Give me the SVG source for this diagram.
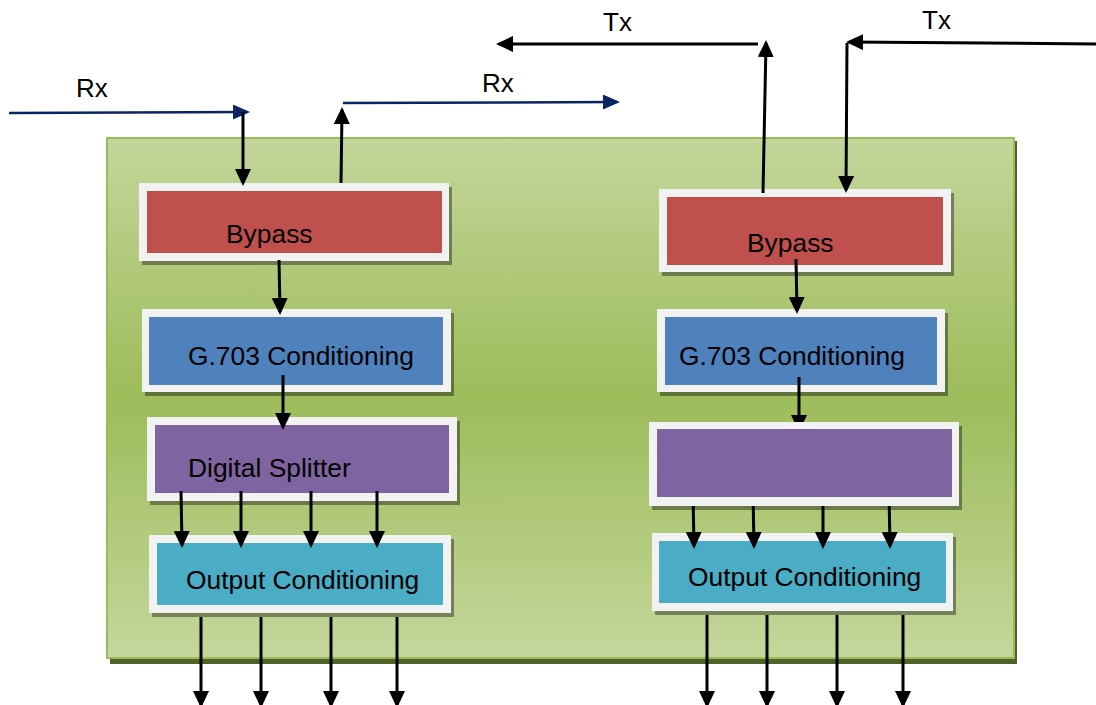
<svg xmlns="http://www.w3.org/2000/svg" width="1096" height="705" viewBox="0 0 1096 705">
<style>
.frame{fill:#F2F2F2}
.shadow{fill:#000;opacity:0.38}
.red{fill:#C0504D}
.blue{fill:#4F81BD}
.purple{fill:#8064A2}
.aqua{fill:#4BACC6}
.lbl{font-family:"Liberation Sans",Arial,sans-serif;font-size:26.4px;fill:#000}
.io{font-family:"Liberation Sans",Arial,sans-serif;font-size:26px;fill:#000}
.c{fill:none;stroke:#000;stroke-width:3}
.n{fill:none;stroke:#0B2463;stroke-width:2.5}
</style>
<defs>
<linearGradient id="bg" x1="0" y1="0" x2="0" y2="1">
<stop offset="0" stop-color="#C3D69B"/>
<stop offset="0.5" stop-color="#9DBC5A"/>
<stop offset="1" stop-color="#C4D79C"/>
</linearGradient>
<marker id="ah" markerUnits="userSpaceOnUse" markerWidth="17" markerHeight="16" refX="14" refY="8" orient="auto" viewBox="0 0 17 16">
<path d="M0,0 L17,8 L0,16 z" fill="#000"/>
</marker>
<marker id="nh" markerUnits="userSpaceOnUse" markerWidth="17" markerHeight="15" refX="14" refY="7.5" orient="auto" viewBox="0 0 17 15">
<path d="M0,0 L17,7.5 L0,15 z" fill="#0B2463"/>
</marker>
</defs>

<g id="container">
<rect x="110" y="141" width="907" height="523" fill="#4F6228"/>
<rect x="107" y="138" width="907" height="520" fill="url(#bg)" stroke="#9BBB59" stroke-width="2"/>
</g>

<g id="labels">
<text class="io" x="76" y="97">Rx</text>
<text class="io" x="482" y="92">Rx</text>
<text class="io" x="603" y="31">Tx</text>
<text class="io" x="922" y="29">Tx</text>
</g>

<g id="left-bypass">
<rect class="shadow" x="142" y="187" width="310" height="78"/>
<rect class="frame" x="139" y="183" width="310" height="78"/>
<rect class="red" x="147" y="191" width="295" height="62"/>
<text class="lbl" x="226" y="243">Bypass</text>
</g>
<g id="left-g703">
<rect class="shadow" x="145" y="313" width="309" height="83"/>
<rect class="frame" x="142" y="309" width="309" height="83"/>
<rect class="blue" x="149" y="317" width="294" height="68"/>
<text class="lbl" x="188" y="365">G.703 Conditioning</text>
</g>
<g id="left-splitter">
<rect class="shadow" x="150" y="421" width="310" height="84"/>
<rect class="frame" x="147" y="417" width="310" height="84"/>
<rect class="purple" x="155" y="425" width="294" height="68"/>
<text class="lbl" x="188" y="477">Digital Splitter</text>
</g>
<g id="left-output">
<rect class="shadow" x="152" y="539" width="302" height="78"/>
<rect class="frame" x="149" y="535" width="302" height="78"/>
<rect class="aqua" x="157" y="543" width="286" height="62"/>
<text class="lbl" x="186" y="589">Output Conditioning</text>
</g>

<g id="right-bypass">
<rect class="shadow" x="662" y="193" width="292" height="83"/>
<rect class="frame" x="659" y="189" width="292" height="83"/>
<rect class="red" x="667" y="197" width="276" height="68"/>
<text class="lbl" x="747" y="252">Bypass</text>
</g>
<g id="right-g703">
<rect class="shadow" x="660" y="313" width="288" height="83"/>
<rect class="frame" x="657" y="309" width="288" height="83"/>
<rect class="blue" x="665" y="317" width="272" height="68"/>
<text class="lbl" x="679" y="365">G.703 Conditioning</text>
</g>
<g id="right-output">
<rect class="shadow" x="655" y="537" width="301" height="78"/>
<rect class="frame" x="652" y="533" width="301" height="78"/>
<rect class="aqua" x="659" y="541" width="287" height="62"/>
<text class="lbl" x="688" y="586">Output Conditioning</text>
</g>

<g id="connectors">
<path class="n" d="M9,113 L247,112" marker-end="url(#nh)"/>
<path class="n" d="M343,103 L617,102" marker-end="url(#nh)"/>
<path class="c" d="M243,112 L243,183" marker-end="url(#ah)"/>
<path class="c" d="M341,183 L342,110" marker-end="url(#ah)"/>
<path class="c" d="M758,44 L499,44" marker-end="url(#ah)"/>
<path class="c" d="M763,193 L766,43" marker-end="url(#ah)"/>
<path class="c" d="M1096,44 L849,42" marker-end="url(#ah)"/>
<path class="c" d="M847,43 L846,190" marker-end="url(#ah)"/>
<path class="c" d="M279,260 L280,312" marker-end="url(#ah)"/>
<path class="c" d="M283,375 L283,427" marker-end="url(#ah)"/>
<path class="c" d="M181,491 L182,545" marker-end="url(#ah)"/>
<path class="c" d="M241,491 L241,545" marker-end="url(#ah)"/>
<path class="c" d="M311,491 L311,545" marker-end="url(#ah)"/>
<path class="c" d="M377,491 L377,545" marker-end="url(#ah)"/>
<path class="c" d="M201,617 L201,705" marker-end="url(#ah)"/>
<path class="c" d="M261,617 L261,705" marker-end="url(#ah)"/>
<path class="c" d="M331,617 L331,705" marker-end="url(#ah)"/>
<path class="c" d="M397,617 L397,705" marker-end="url(#ah)"/>
<path class="c" d="M796,259 L797,311" marker-end="url(#ah)"/>
<path class="c" d="M799,377 L799,429" marker-end="url(#ah)"/>
<path class="c" d="M693,495 L694,546" marker-end="url(#ah)"/>
<path class="c" d="M753,495 L754,546" marker-end="url(#ah)"/>
<path class="c" d="M823,495 L823,546" marker-end="url(#ah)"/>
<path class="c" d="M889,495 L890,546" marker-end="url(#ah)"/>
<path class="c" d="M707,615 L707,705" marker-end="url(#ah)"/>
<path class="c" d="M767,615 L767,705" marker-end="url(#ah)"/>
<path class="c" d="M837,615 L837,705" marker-end="url(#ah)"/>
<path class="c" d="M903,615 L903,705" marker-end="url(#ah)"/>
</g>

<g id="right-splitter">
<rect class="shadow" x="652" y="426" width="310" height="84"/>
<rect class="frame" x="649" y="422" width="310" height="84"/>
<rect class="purple" x="657" y="429" width="295" height="68"/>
</g>
</svg>
